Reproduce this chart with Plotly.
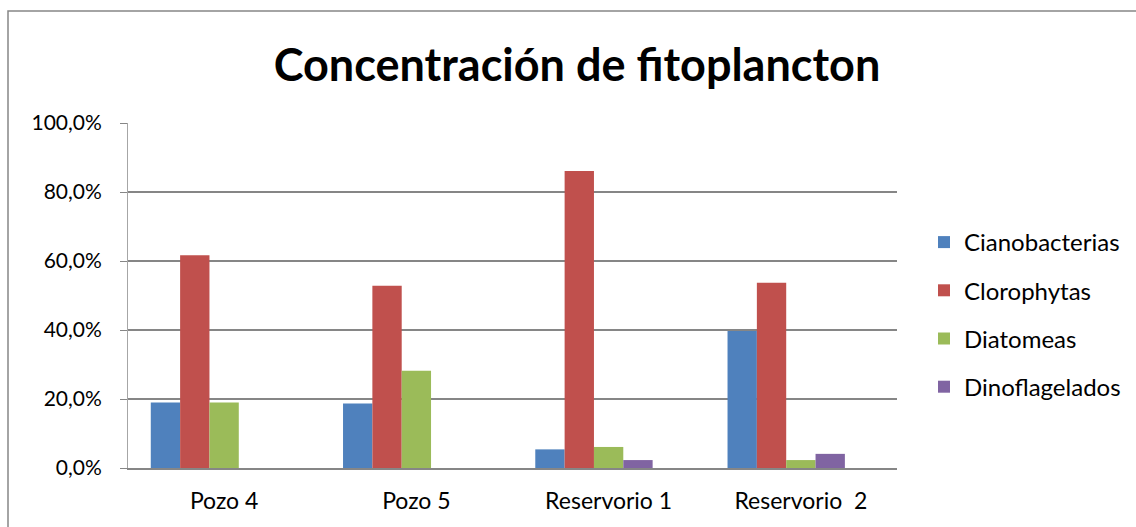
import plotly.graph_objects as go

categories = ["Pozo 4", "Pozo 5", "Reservorio 1", "Reservorio \u00a02"]
series_names = ["Cianobacterias", "Clorophytas", "Diatomeas", "Dinoflagelados"]
cianobacterias = [0.190, 0.187, 0.054, 0.397]
clorophytas = [0.617, 0.528, 0.861, 0.537]
diatomeas = [0.190, 0.282, 0.061, 0.023]
dinoflagelados = [None, None, 0.023, 0.041]
empty_series = [None, None, None, None]
colors = ["#4F81BD", "#C0504D", "#9BBB59", "#8064A2"]
y_ticks = [0, 0.2, 0.4, 0.6, 0.8, 1.0]

W, H = 1136, 527
L, R, T, B = 128, 897, 123, 468

fig = go.Figure()
for name, vals, col in zip(series_names,
                           [cianobacterias, clorophytas, diatomeas, dinoflagelados],
                           colors):
    fig.add_trace(go.Bar(x=categories, y=vals, name=name, marker_color=col,
                         marker_line_width=0, legendgroup=name))
fig.add_trace(go.Bar(x=categories, y=empty_series, name="", showlegend=False,
                     marker_color="rgba(0,0,0,0)"))

pw = R - L
ph = B - T
def px_x(x):
    return (x - L) / pw
def px_y(y):
    return (B - y) / ph

fig.add_shape(type="rect", xref="paper", yref="paper",
              x0=px_x(8), x1=px_x(1160), y0=px_y(560), y1=px_y(11),
              line=dict(color="#868686", width=1.5), fillcolor="rgba(0,0,0,0)",
              layer="below")

FONT = "Lato, Carlito, Calibri, sans-serif"
fig.update_layout(
    width=W, height=H,
    margin=dict(l=L, r=W - R, t=T, b=H - B, autoexpand=False),
    paper_bgcolor="white", plot_bgcolor="white",
    barmode="group", bargap=0.237, bargroupgap=0,
    separators=", ",
    font=dict(family=FONT, color="black", size=21),
    title=dict(text="<b>Concentración de fitoplancton</b>", x=577 / W, xanchor="center",
               y=1 - 65 / H, yanchor="middle",
               font=dict(size=45, family=FONT, color="black")),
    showlegend=True,
    legend=dict(x=px_x(924), xanchor="left", y=px_y(220), yanchor="top",
                font=dict(size=24), traceorder="grouped", tracegroupgap=14,
                itemwidth=30, bgcolor="rgba(0,0,0,0)"),
    xaxis=dict(showline=True, linecolor="#868686", linewidth=1.5, ticks="",
               tickfont=dict(size=23), showgrid=False, ticklabelstandoff=12),
    yaxis=dict(range=[0, 1], tickvals=y_ticks, tickformat=".1%",
               showgrid=True, gridcolor="#868686", gridwidth=1.5,
               showline=True, linecolor="#A6A6A6", linewidth=1,
               ticks="outside", ticklen=7, tickcolor="#868686",
               tickfont=dict(size=21), zeroline=False, ticklabelstandoff=14),
)

fig.write_html("out.html", config={"displayModeBar": False},
               post_script="document.body.style.margin='0';")
